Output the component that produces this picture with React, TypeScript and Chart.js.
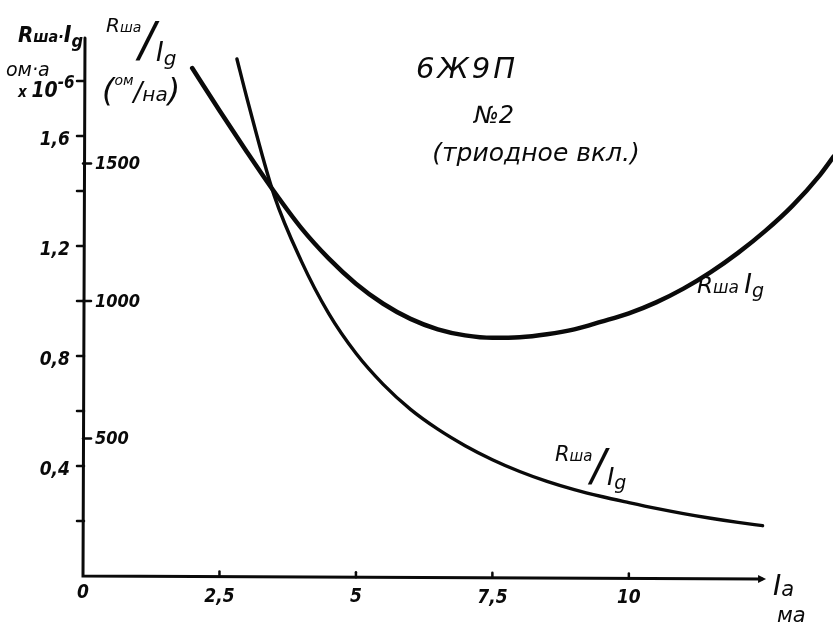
import { useEffect, useRef } from "react";
import { Chart, registerables } from "chart.js";

Chart.register(...registerables);

// Anode current Ia, mA, for the Rша·Ig curve
const currentProduct = [2.0, 2.5, 3.0, 3.5, 4.0, 4.5, 5.0, 5.5, 6.0, 6.5, 7.0, 7.5, 8.0, 8.5, 9.0, 9.5, 10.0, 10.5, 11.0, 11.5, 12.0, 12.5, 13.0, 13.5, 13.75];
// Rша·Ig, ом·а ×10⁻⁶
const productValues = [1.847, 1.693, 1.543, 1.398, 1.265, 1.155, 1.063, 0.99, 0.935, 0.897, 0.875, 0.866, 0.868, 0.879, 0.897, 0.925, 0.955, 0.995, 1.045, 1.105, 1.175, 1.255, 1.347, 1.458, 1.525];

// Anode current Ia, mA, for the Rша/Ig curve
const currentRatio = [2.82, 3.0, 3.5, 4.0, 4.5, 5.0, 5.5, 6.0, 6.5, 7.0, 7.5, 8.0, 8.5, 9.0, 9.5, 10.0, 10.5, 11.0, 11.5, 12.0, 12.45];
// Rша/Ig, ом/на
const ratioValues = [1880, 1740, 1385, 1145, 955, 810, 697, 606, 534, 474, 423, 380, 344, 314, 289, 267, 246, 227, 210, 195, 183];

// Axis ticks and labels
const xTickValues = [2.5, 5, 7.5, 10];
const xTickLabels = ["2,5", "5", "7,5", "10"];
const leftLabelValues = [0.4, 0.8, 1.2, 1.6];
const leftLabelTexts = ["0,4", "0,8", "1,2", "1,6"];
const leftMinorTicks = [0.2, 0.6, 1.0, 1.4, 1.8];
const rightTickValues = [500, 1000, 1500];
const rightTickLabels = ["500", "1000", "1500"];

const X_AXIS_END = 12.44;
const Y_AXIS_TOP = 1.956;

const INK = "#0a0a0a";
const NARROW = '"DejaVu Sans Condensed", "DejaVu Sans", sans-serif';
const WIDE = '"DejaVu Sans", sans-serif';

type Part = { t: string; s: number; dy?: number; gap?: number; w?: string; f?: string };

function font(size: number, weight = "bold", family = NARROW) {
  return `italic ${weight} ${size}px ${family}`;
}

function drawParts(ctx: CanvasRenderingContext2D, x: number, y: number, parts: Part[]) {
  let cx = x;
  for (const p of parts) {
    ctx.font = font(p.s, p.w ?? "bold", p.f ?? NARROW);
    ctx.fillText(p.t, cx, y + (p.dy ?? 0));
    cx += ctx.measureText(p.t).width + (p.gap ?? 0);
  }
}

const inkPlugin = {
  id: "inkAxes",
  afterDatasetsDraw(chart: any) {
    const ctx: CanvasRenderingContext2D = chart.ctx;
    const xs = chart.scales.x;
    const ys = chart.scales.y;
    const ys2 = chart.scales.y2;
    const ax = xs.getPixelForValue(0);
    const ay = ys.getPixelForValue(0);
    const axEnd = xs.getPixelForValue(X_AXIS_END);
    const ayTop = ys.getPixelForValue(Y_AXIS_TOP);

    ctx.save();
    ctx.strokeStyle = INK;
    ctx.fillStyle = INK;
    ctx.lineCap = "round";

    // axes
    ctx.lineWidth = 3;
    ctx.beginPath();
    ctx.moveTo(ax + 2, ayTop);
    ctx.lineTo(ax, ay);
    ctx.lineTo(axEnd, ay + 3);
    ctx.stroke();

    // arrow head on the current axis
    ctx.beginPath();
    ctx.moveTo(axEnd + 4, ay + 3);
    ctx.lineTo(axEnd - 4, ay - 1);
    ctx.lineTo(axEnd - 4, ay + 7);
    ctx.closePath();
    ctx.fill();

    // x ticks and labels
    ctx.lineWidth = 2.5;
    ctx.textAlign = "center";
    ctx.textBaseline = "alphabetic";
    xTickValues.forEach((v, i) => {
      const px = xs.getPixelForValue(v);
      const py = ay + (3 * v) / X_AXIS_END;
      ctx.beginPath();
      ctx.moveTo(px, py - 5);
      ctx.lineTo(px, py);
      ctx.stroke();
      ctx.font = font(19);
      ctx.fillText(xTickLabels[i], px, py + 25);
    });
    ctx.font = font(19);
    ctx.fillText("0", ax, ay + 22);

    // left (Rша·Ig) ticks
    ctx.textAlign = "right";
    const allLeft = [...leftMinorTicks, ...leftLabelValues];
    allLeft.forEach((v) => {
      const py = ys.getPixelForValue(v);
      ctx.beginPath();
      ctx.moveTo(ax - 6, py);
      ctx.lineTo(ax + 1, py);
      ctx.stroke();
    });
    leftLabelValues.forEach((v, i) => {
      const py = ys.getPixelForValue(v);
      ctx.font = font(19);
      ctx.fillText(leftLabelTexts[i], ax - 13, py + 9);
    });

    // right (Rша/Ig) ticks
    ctx.textAlign = "left";
    ctx.textBaseline = "middle";
    rightTickValues.forEach((v, i) => {
      const py = ys2.getPixelForValue(v);
      ctx.beginPath();
      ctx.moveTo(ax, py);
      ctx.lineTo(ax + 8, py);
      ctx.stroke();
      ctx.font = font(18);
      ctx.fillText(rightTickLabels[i], ax + 12, py + 1);
    });

    ctx.textBaseline = "alphabetic";
    ctx.textAlign = "left";

    // left axis title: Rша·Ig, ом·а ×10⁻⁶
    drawParts(ctx, 18, 42, [
      { t: "R", s: 22 },
      { t: "ша", s: 16 },
      { t: "·", s: 16 },
      { t: "I", s: 23 },
      { t: "g", s: 18, dy: 5 },
    ]);
    drawParts(ctx, 6, 76, [{ t: "ом·а", s: 19, w: "normal", f: WIDE }]);
    drawParts(ctx, 18, 97, [
      { t: "x ", s: 15 },
      { t: "10", s: 21 },
      { t: "-6", s: 17, dy: -9 },
    ]);

    // second axis title: Rша/Ig (ом/на)
    drawParts(ctx, 106, 32, [
      { t: "R", s: 20, w: "normal", f: WIDE },
      { t: "ша", s: 14, w: "normal", f: WIDE },
    ]);
    ctx.font = font(48, "normal", WIDE);
    ctx.fillText("/", 139, 56);
    drawParts(ctx, 156, 61, [
      { t: "I", s: 26, w: "normal", f: WIDE },
      { t: "g", s: 20, dy: 4, w: "normal", f: WIDE },
    ]);
    drawParts(ctx, 102, 101, [
      { t: "(", s: 32, w: "normal", f: WIDE },
      { t: "ом", s: 14, dy: -16, w: "normal", f: WIDE },
      { t: "/", s: 26, w: "normal", f: WIDE },
      { t: "на", s: 20, w: "normal", f: WIDE },
      { t: ")", s: 32, w: "normal", f: WIDE },
    ]);

    // device title
    ctx.textAlign = "center";
    (ctx as any).letterSpacing = "3px";
    ctx.font = font(29, "normal", WIDE);
    ctx.fillText("6Ж9П", 467, 78);
    (ctx as any).letterSpacing = "0px";
    ctx.font = font(24, "normal", WIDE);
    ctx.fillText("№2", 494, 123);
    ctx.font = font(25, "normal", WIDE);
    ctx.fillText("(триодное вкл.)", 536, 161);

    // curve labels
    ctx.textAlign = "left";
    drawParts(ctx, 697, 293, [
      { t: "R", s: 23, w: "normal", f: WIDE },
      { t: "ша ", s: 17, w: "normal", f: WIDE },
      { t: "I", s: 26, w: "normal", f: WIDE },
      { t: "g", s: 19, dy: 4, w: "normal", f: WIDE },
    ]);
    drawParts(ctx, 555, 461, [
      { t: "R", s: 21, w: "normal", f: WIDE },
      { t: "ша", s: 15, w: "normal", f: WIDE },
    ]);
    ctx.font = font(44, "normal", WIDE);
    ctx.fillText("/", 591, 481);
    drawParts(ctx, 607, 485, [
      { t: "I", s: 25, w: "normal", f: WIDE },
      { t: "g", s: 19, dy: 4, w: "normal", f: WIDE },
    ]);

    // current axis title
    drawParts(ctx, 773, 595, [
      { t: "I", s: 28, w: "normal", f: WIDE },
      { t: "a", s: 21, dy: 1, w: "normal", f: WIDE },
    ]);
    ctx.font = font(21, "normal", WIDE);
    ctx.fillText("ма", 777, 622);

    ctx.restore();
  },
};

export default function App() {
  const canvasRef = useRef<HTMLCanvasElement | null>(null);

  useEffect(() => {
    const canvas = canvasRef.current;
    if (!canvas) return;
    const chart = new Chart(canvas, {
      type: "line",
      data: {
        datasets: [
          {
            label: "Rша·Ig",
            data: currentProduct.map((x, i) => ({ x, y: productValues[i] })),
            yAxisID: "y",
            borderColor: INK,
            borderWidth: 4.5,
            pointRadius: 0,
            cubicInterpolationMode: "monotone",
            fill: false,
          },
          {
            label: "Rша/Ig",
            data: currentRatio.map((x, i) => ({ x, y: ratioValues[i] })),
            yAxisID: "y2",
            borderColor: INK,
            borderWidth: 3.4,
            pointRadius: 0,
            cubicInterpolationMode: "monotone",
            fill: false,
          },
        ],
      },
      options: {
        responsive: false,
        animation: false,
        events: [],
        layout: { padding: { left: 83, right: 0, top: 26, bottom: 49 } },
        plugins: { legend: { display: false }, tooltip: { enabled: false } },
        elements: { line: { borderCapStyle: "round", borderJoinStyle: "round" } },
        scales: {
          x: { type: "linear", min: 0, max: 13.74, display: false },
          y: { type: "linear", min: 0, max: 2, display: false },
          y2: { type: "linear", min: 0, max: 2000, display: false },
        },
      },
      plugins: [inkPlugin],
    });
    return () => chart.destroy();
  }, []);

  return (
    <div style={{ position: "fixed", left: 0, top: 0, width: 833, height: 625, background: "#fff" }}>
      <canvas ref={canvasRef} width={833} height={625} />
    </div>
  );
}
